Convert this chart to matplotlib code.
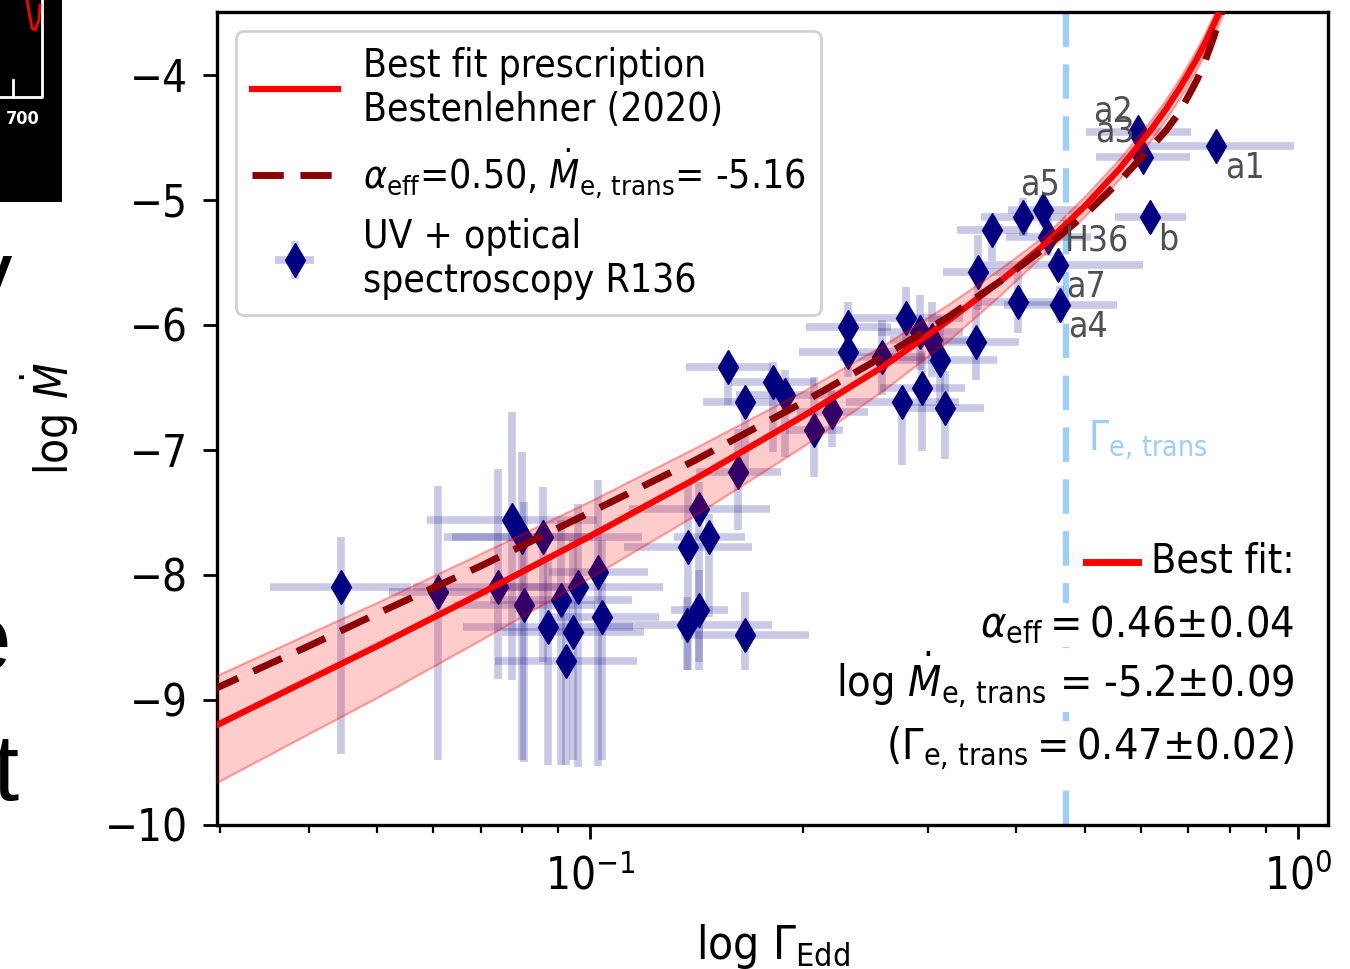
import matplotlib
matplotlib.use("Agg")
import matplotlib.pyplot as plt
from matplotlib import font_manager
import numpy as np

# ---------------- data ----------------
# model curves (log Mdot vs Gamma_e)
gamma_grid = [0.029, 0.04, 0.05, 0.07, 0.10, 0.14, 0.20, 0.26, 0.32, 0.38, 0.44,
              0.50, 0.56, 0.62, 0.65, 0.68, 0.70, 0.72, 0.74, 0.76, 0.77, 0.79]
mdot_fit = [-9.23, -8.84, -8.57, -8.15, -7.69, -7.24, -6.73, -6.33, -5.97, -5.65, -5.35,
            -5.05, -4.75, -4.44, -4.28, -4.11, -3.99, -3.87, -3.74, -3.60, -3.53, -3.38]
mdot_alt = [-8.93, -8.57, -8.31, -7.93, -7.50, -7.09, -6.62, -6.25, -5.94, -5.65, -5.38,
            -5.12, -4.85, -4.58, -4.45, -4.30, -4.17, -4.04, -3.88, -3.70, -3.60, -3.40]
band_hi = [-8.83, -8.47, -8.22, -7.83, -7.41, -6.99, -6.53, -6.16, -5.84, -5.55, -5.28,
           -4.97, -4.67, -4.36, -4.20, -4.03, -3.91, -3.79, -3.66, -3.52, -3.45, -3.30]
band_lo = [-9.69, -9.27, -8.98, -8.52, -8.02, -7.53, -6.97, -6.52, -6.13, -5.76, -5.42,
           -5.13, -4.83, -4.52, -4.36, -4.19, -4.07, -3.95, -3.82, -3.68, -3.61, -3.46]
gamma_trans = 0.47

# R136 stars
gamma_obs = [0.0444, 0.0610, 0.0776, 0.0802, 0.0858, 0.0741, 0.0807, 0.0910, 0.0962, 0.1026,
             0.0872, 0.0946, 0.0925, 0.1040, 0.1618, 0.1426, 0.1473, 0.1375, 0.1426, 0.1371,
             0.1655, 0.1566, 0.1655, 0.1813, 0.1886, 0.2073, 0.2197, 0.2314, 0.2314, 0.2585,
             0.2795, 0.2925, 0.3042, 0.3122, 0.2759, 0.2944, 0.3173, 0.3509, 0.4022, 0.3696,
             0.4089, 0.4364, 0.4436, 0.4583, 0.3532, 0.4613, 0.5943, 0.6040, 0.7658, 0.6180]
mdot_obs = [-8.10, -8.14, -7.56, -7.70, -7.70, -8.10, -8.24, -8.20, -8.10, -7.98,
            -8.42, -8.46, -8.69, -8.34, -7.18, -7.47, -7.70, -7.78, -8.28, -8.40,
            -8.48, -6.34, -6.62, -6.46, -6.56, -6.84, -6.70, -6.02, -6.22, -6.26,
            -5.95, -6.06, -6.12, -6.28, -6.62, -6.51, -6.67, -6.14, -5.82, -5.24,
            -5.14, -5.08, -5.30, -5.52, -5.58, -5.84, -4.46, -4.66, -4.57, -5.14]
gamma_err_dex = [0.10, 0.07, 0.12, 0.10, 0.14, 0.12, 0.10, 0.10, 0.12, 0.07,
                 0.12, 0.10, 0.10, 0.08, 0.06, 0.10, 0.05, 0.09, 0.04, 0.12,
                 0.09, 0.06, 0.06, 0.06, 0.07, 0.04, 0.05, 0.06, 0.07, 0.06,
                 0.08, 0.06, 0.06, 0.08, 0.08, 0.06, 0.055, 0.06, 0.06, 0.05,
                 0.06, 0.05, 0.06, 0.12, 0.05, 0.08, 0.074, 0.066, 0.11, 0.05]
mdot_err_up = [0.40, 0.85, 0.86, 0.68, 0.40, 0.95, 0.82, 0.64, 0.67, 0.74,
               0.54, 0.74, 0.57, 0.62, 0.35, 0.21, 0.19, 0.52, 0.32, 0.22,
               0.34, 0.10, 0.10, 0.16, 0.20, 0.42, 0.18, 0.20, 0.20, 0.30,
               0.25, 0.30, 0.30, 0.35, 0.10, 0.30, 0.30, 0.30, 0.25, 0.10,
               0.15, 0.12, 0.15, 0.10, 0.30, 0.15, 0.05, 0.05, 0.10, 0.10]
mdot_err_dn = [1.33, 1.34, 1.28, 1.78, 1.00, 0.73, 1.26, 1.32, 1.44, 1.55,
               1.10, 1.02, 0.83, 1.14, 0.46, 1.23, 0.64, 0.98, 0.48, 0.36,
               0.28, 0.30, 0.60, 0.56, 0.50, 0.38, 0.28, 0.20, 0.20, 0.30,
               0.25, 0.30, 0.30, 0.35, 0.50, 0.50, 0.40, 0.30, 0.25, 0.25,
               0.15, 0.12, 0.15, 0.10, 0.30, 0.15, 0.05, 0.05, 0.10, 0.10]
star_names = [''] * 41 + ['a5', 'H36', 'a7', '', 'a4', 'a2', 'a3', 'a1', 'b']

# label placement (offset in pixels, horizontal alignment)
name_offsets = {'a1': (9, -22, 'left'), 'a2': (-5, 21, 'right'), 'a3': (-8, 26, 'right'),
                'a5': (-3, 25, 'center'), 'H36': (17, -3, 'left'), 'b': (8, -22, 'left'),
                'a7': (8, -22, 'left'), 'a4': (8, -22, 'left')}

# ---------------- fonts ----------------
cond = [f for f in font_manager.fontManager.ttflist
        if f.name.startswith('DejaVu Sans') and 'ondensed' in f.fname
        and 'Bold' not in f.fname and 'Oblique' not in f.fname and 'Mono' not in f.name]
if cond:
    fam, stretch, k = cond[0].name, cond[0].stretch, 1.0
    plt.rcParams['font.family'] = [fam, 'DejaVu Sans']
    plt.rcParams['font.stretch'] = stretch
    plt.rcParams['mathtext.fontset'] = 'custom'
    plt.rcParams['mathtext.rm'] = f'{fam}:stretch={stretch}'
    plt.rcParams['mathtext.it'] = f'{fam}:style=oblique:stretch={stretch}'
    plt.rcParams['mathtext.bf'] = f'{fam}:weight=bold:stretch={stretch}'
else:
    k = 0.9
    plt.rcParams['font.family'] = ['DejaVu Sans']
    plt.rcParams['mathtext.fontset'] = 'dejavusans'

trans_blue = '#9dcdf9'

W, H = 1350, 969
fig = plt.figure(figsize=(W / 100, H / 100), dpi=100)
ax = fig.add_axes([217 / W, 1 - 825 / H, 1111 / W, 813 / H])

ax.axvline(gamma_trans, color=trans_blue, lw=4.5, dashes=(5.5, 2.8), zorder=1)

g = np.array(gamma_obs)
ge = np.array(gamma_err_dex)
xerr = [g - g * 10 ** (-ge), g * 10 ** ge - g]
eb = ax.errorbar(g, mdot_obs, xerr=xerr, yerr=[mdot_err_dn, mdot_err_up], fmt='d',
                 color='navy', ms=17, mec='navy', ecolor=(0.05, 0.05, 0.55, 0.22),
                 elinewidth=5.5, capsize=0, zorder=2,
                 label='UV + optical\nspectroscopy R136')

ax.fill_between(gamma_grid, band_lo, band_hi, facecolor=(1, 0, 0, 0.2),
                edgecolor=(1, 0, 0, 0.35), lw=1.5, zorder=3)
l1, = ax.plot(gamma_grid, mdot_fit, color='red', lw=4.5, zorder=4,
              label='Best fit prescription\nBestenlehner (2020)')
l2, = ax.plot(gamma_grid, mdot_alt, color='darkred', lw=5, dashes=(4.5, 2.4), zorder=4.5,
              label=r'$\alpha_{\rm eff}$=0.50, $\dot{M}_{\rm e,\,trans}$= -5.16')

for gx, my, name in zip(gamma_obs, mdot_obs, star_names):
    if name:
        dx, dy, ha = name_offsets[name]
        ax.annotate(name, (gx, my), xytext=(dx, dy), textcoords='offset pixels',
                    ha=ha, va='center', fontsize=25.5 * k, color='#505050', zorder=6)

ax.text(0.784, 0.4736, r'$\Gamma_{\rm e,\,trans}$', transform=ax.transAxes,
        color=trans_blue, fontsize=29 * k, va='center', ha='left')

# best fit box (lower right)
ax.plot([0.782, 0.829], [0.3235, 0.3235], transform=ax.transAxes, color='red', lw=5, zorder=6)
ax.text(0.970, 0.310, 'Best fit:', transform=ax.transAxes, ha='right', va='baseline',
        fontsize=29.5 * k, zorder=6)
fit_lines = [(0.231, r'$\alpha_{\rm eff} = 0.46{\pm}0.04$'),
             (0.157, r'log $\dot{M}_{\rm e,\,trans}$ = -5.2$\pm$0.09'),
             (0.080, r'($\Gamma_{\rm e,\,trans} = 0.47{\pm}0.02$)')]
for yy, txt in fit_lines:
    ax.text(0.970, yy, txt, transform=ax.transAxes, ha='right', va='baseline',
            fontsize=31 * k, zorder=6,
            bbox=dict(facecolor='white', edgecolor='none', pad=1))

ax.set_xscale('log')
ax.set_xlim(0.0297, 1.102)
ax.set_ylim(-10, -3.5)
ax.set_yticks([-10, -9, -8, -7, -6, -5, -4])
ax.tick_params(which='major', length=10, width=2, labelsize=31.5 * k, pad=11)
ax.tick_params(which='minor', length=6, width=1.6)
for s in ax.spines.values():
    s.set_linewidth(2.4)

ax.set_xlabel(r'log $\Gamma_{\rm Edd}$', fontsize=33 * k)
ax.set_ylabel(r'log $\dot{M}$', fontsize=33 * k)
ax.xaxis.set_label_coords(0.5, -0.119)
ax.yaxis.set_label_coords(-0.122, 0.5)

leg = ax.legend(handles=[l1, l2, eb], loc='upper left', fontsize=28 * k,
                borderaxespad=0.5, handlelength=2.2, handletextpad=0.65,
                labelspacing=0.45, framealpha=1, edgecolor='0.82', fancybox=True)
leg.get_frame().set_linewidth(2)
leg.set_zorder(10)

# fragments of the neighbouring slide content at the left edge
inset = fig.add_axes([0, 1 - 202 / H, 62 / W, 202 / H], facecolor='black')
inset.set_xlim(0, 62)
inset.set_ylim(202, 0)
inset.set_xticks([])
inset.set_yticks([])
for s in inset.spines.values():
    s.set_visible(False)
inset.plot([42, 42, 0], [0, 97, 97], color='white', lw=2)
inset.plot([13, 13], [80, 97], color='white', lw=2)
inset.plot([27, 32, 35, 39, 40], [0, 28, 30, 20, 5], color='red', lw=2)
inset.text(40, 119, '700', color='white', fontsize=13, fontweight='bold',
           ha='right', va='center', family='DejaVu Sans')

for ch, xr, yb in [('y', 12, 306), ('e', 12, 670), ('t', 19, 800)]:
    fig.text(xr / W, 1 - yb / H, ch, fontsize=68, ha='right', va='baseline',
             family='Liberation Sans')

fig.savefig('out.png', dpi=100)
